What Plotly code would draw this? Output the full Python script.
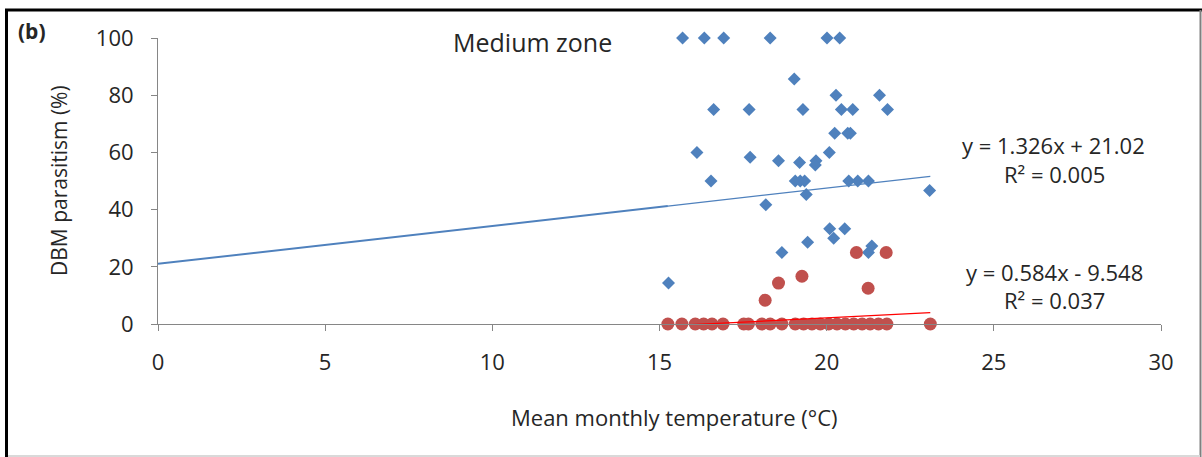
import plotly.graph_objects as go

# ---------------- data ----------------
blue_x = [15.69, 16.34, 16.92, 18.31, 20.01, 20.39,
          19.03,
          20.28, 21.58,
          16.62, 17.68, 19.29, 20.44, 20.78, 21.82,
          20.24, 20.63, 20.71,
          16.12, 20.08,
          17.71, 18.56, 19.19, 19.68, 19.66,
          16.54, 19.06, 19.21, 19.34, 20.66, 20.93, 21.25,
          19.39, 18.18, 23.08,
          20.09, 20.54, 20.21, 19.43, 21.35, 21.25, 18.66, 15.27]
blue_y = [100, 100, 100, 100, 100, 100,
          85.7,
          80, 80,
          75, 75, 75, 75, 75, 75,
          66.7, 66.7, 66.7,
          60, 60,
          58.3, 57.1, 56.5, 57.1, 55.6,
          50, 50, 50, 50, 50, 50, 50,
          45.3, 41.7, 46.7,
          33.3, 33.3, 30, 28.6, 27.3, 25, 25, 14.3]

red_x = [20.89, 21.78, 19.26, 18.56, 18.16, 21.24,
         15.25, 15.67, 16.07, 16.32, 16.57, 16.90, 17.52, 17.66, 18.06,
         18.31, 18.66, 19.06, 19.31, 19.56, 19.81, 20.06, 20.31, 20.56,
         20.81, 21.06, 21.30, 21.55, 21.80, 23.10]
red_y = [25, 25, 16.7, 14.3, 8.3, 12.5,
         0, 0, 0, 0, 0, 0, 0, 0, 0,
         0, 0, 0, 0, 0, 0, 0, 0, 0,
         0, 0, 0, 0, 0, 0]

blue_slope, blue_intercept, blue_r2 = 1.326, 21.02, 0.005
red_slope, red_intercept, red_r2 = 0.584, -9.548, 0.037
blue_fit_x_back = [0.0, 15.25]     # backward forecast part
blue_fit_x = [15.25, 23.1]
red_fit_x = [15.25, 23.1]

x_ticks = [0, 5, 10, 15, 20, 25, 30]
y_ticks = [0, 20, 40, 60, 80, 100]

# ---------------- layout helpers ----------------
W, H = 1202, 457
ML, MR, MT, MB = 158, 41, 38, 133
PW, PH = W - ML - MR, H - MT - MB


def px(xp):
    return (xp - ML) / PW


def py(yp):
    return (H - MB - yp) / PH


FONT = "Open Sans"
TXT = "#262626"
BLUE = "#4F81BD"
RED = "#C0504D"
AX = "#868686"

fig = go.Figure()

fig.add_trace(go.Scatter(
    x=blue_fit_x_back, y=[blue_slope * v + blue_intercept for v in blue_fit_x_back],
    mode="lines", line=dict(color=BLUE, width=2), showlegend=False, hoverinfo="skip"))
fig.add_trace(go.Scatter(
    x=blue_fit_x, y=[blue_slope * v + blue_intercept for v in blue_fit_x],
    mode="lines", line=dict(color=BLUE, width=1.2), showlegend=False, hoverinfo="skip"))

fig.add_trace(go.Scatter(
    x=blue_x, y=blue_y, mode="markers", cliponaxis=False,
    marker=dict(symbol="diamond", size=10, color=BLUE), showlegend=False))
fig.add_trace(go.Scatter(
    x=red_x, y=red_y, mode="markers", cliponaxis=False,
    marker=dict(symbol="circle", size=13, color=RED), showlegend=False))

fig.add_trace(go.Scatter(
    x=red_fit_x, y=[red_slope * v + red_intercept for v in red_fit_x],
    mode="lines", line=dict(color="#FF0000", width=1.3), showlegend=False, hoverinfo="skip"))

axis_common = dict(showline=True, linecolor=AX, linewidth=1, ticks="outside",
                   ticklen=6, tickcolor=AX, showgrid=False, zeroline=False,
                   tickfont=dict(family=FONT, size=22, color=TXT),
                   ticklabelstandoff=13)

fig.update_layout(
    width=W, height=H,
    margin=dict(l=ML, r=MR, t=MT, b=MB, pad=0),
    paper_bgcolor="white", plot_bgcolor="white",
    font=dict(family=FONT, color=TXT),
    xaxis=dict(range=[0, 30], tickvals=x_ticks, **axis_common),
    yaxis=dict(range=[0, 100], tickvals=y_ticks, **axis_common),
)

ann = [
    dict(text="Medium zone", x=px(532), y=py(42), size=25),
    dict(text="<b>(b)</b>", x=px(32), y=py(31), size=21),
    dict(text="Mean monthly temperature (°C)", x=px(674), y=py(417), size=22),
    dict(text=f"y = {blue_slope}x + {blue_intercept}", x=px(1053), y=py(145), size=22),
    dict(text=f"R² = {blue_r2:.3f}", x=px(1054), y=py(174), size=22),
    dict(text=f"y = {red_slope}x - {abs(red_intercept)}", x=px(1054), y=py(272), size=22),
    dict(text=f"R² = {red_r2:.3f}", x=px(1054), y=py(300), size=22),
]
for a in ann:
    fig.add_annotation(text=a["text"], x=a["x"], y=a["y"], xref="paper", yref="paper",
                       xanchor="center", yanchor="middle", showarrow=False,
                       font=dict(family=FONT, size=a["size"], color=TXT))
fig.add_annotation(text="DBM parasitism (%)", x=px(59), y=py(181), xref="paper", yref="paper",
                   xanchor="center", yanchor="middle", showarrow=False, textangle=-90,
                   font=dict(family=FONT, size=21, color=TXT))

# outer frame
fig.add_shape(type="line", xref="paper", yref="paper", x0=px(6.5), x1=px(6.5), y0=py(10), y1=py(457),
              line=dict(color="black", width=3))
fig.add_shape(type="line", xref="paper", yref="paper", x0=px(5), x1=px(1202), y0=py(10), y1=py(10),
              line=dict(color="black", width=3))
fig.add_shape(type="line", xref="paper", yref="paper", x0=px(1200.5), x1=px(1200.5), y0=py(10), y1=py(457),
              line=dict(color="#808080", width=2))
fig.add_shape(type="line", xref="paper", yref="paper", x0=px(8), x1=px(1200), y0=py(456), y1=py(456),
              line=dict(color="#D9D9D9", width=2))

fig.write_html("out.html", config={"displayModeBar": False},
               post_script="document.body.style.margin='0';document.body.style.overflow='hidden';")
